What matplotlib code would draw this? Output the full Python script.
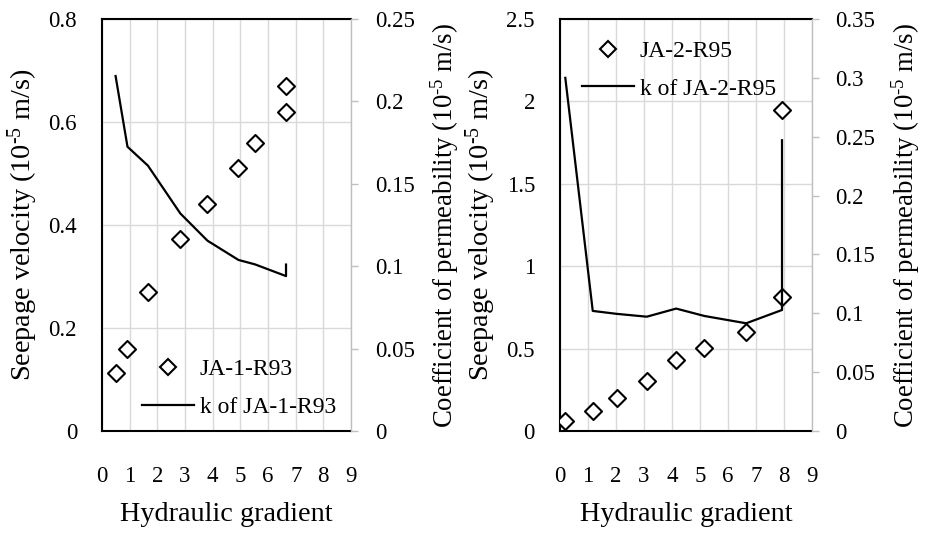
import matplotlib
matplotlib.use("Agg")
import matplotlib.pyplot as plt
from matplotlib.ticker import FuncFormatter
from matplotlib.lines import Line2D

plt.rcParams["font.family"] = ["Liberation Serif", "DejaVu Serif"]
plt.rcParams["mathtext.fontset"] = "custom"
plt.rcParams["mathtext.rm"] = "Liberation Serif"
plt.rcParams["mathtext.it"] = "Liberation Serif:italic"

# ---- data ----
# JA-1-R93
grad_1 = [0.49, 0.92, 1.66, 2.83, 3.81, 4.93, 5.53, 6.65, 6.65]
vel_1 = [0.113, 0.159, 0.269, 0.373, 0.440, 0.510, 0.560, 0.620, 0.670]
k_1 = [0.2154, 0.1725, 0.161, 0.132, 0.1155, 0.1038, 0.1011, 0.094, 0.101]

# JA-2-R95
grad_2 = [0.19, 1.17, 2.03, 3.10, 4.15, 5.16, 6.65, 7.93, 7.93]
vel_2 = [0.063, 0.121, 0.202, 0.305, 0.431, 0.502, 0.599, 0.815, 1.948]
k_2 = [0.300, 0.102, 0.0995, 0.0971, 0.104, 0.0977, 0.0915, 0.1028, 0.247]

x_ticks = list(range(0, 10))
v_ticks_1 = [0, 0.2, 0.4, 0.6, 0.8]
k_ticks_1 = [0, 0.05, 0.1, 0.15, 0.2, 0.25]
v_ticks_2 = [0, 0.5, 1, 1.5, 2, 2.5]
k_ticks_2 = [0, 0.05, 0.1, 0.15, 0.2, 0.25, 0.3, 0.35]

TICK_FS = 16.5
LABEL_FS = 20.3
GRID = "#d9d9d9"
RSPINE = "#bfbfbf"
UNIT = r"(10$^{\text{-}5}$ m/s)"

fig = plt.figure(figsize=(9.25, 5.34), dpi=100)


def fmt(v, pos):
    return "%g" % v


def panel(rect, x, v, k, vt, kt, name, leg_anchor):
    ax = fig.add_axes(rect)
    ax2 = ax.twinx()

    ax.scatter(x, v, marker="D", s=75, facecolor="white", edgecolor="black",
               linewidth=1.5, zorder=3)
    ax2.plot(x, k, color="black", lw=1.6)

    ax.set_xlim(0, 9)
    ax.set_xticks(x_ticks)
    ax.set_ylim(vt[0], vt[-1])
    ax.set_yticks(vt)
    ax2.set_ylim(kt[0], kt[-1])
    ax2.set_yticks(kt)
    ax.yaxis.set_major_formatter(FuncFormatter(fmt))
    ax2.yaxis.set_major_formatter(FuncFormatter(fmt))

    ax.grid(True, color=GRID, lw=1.0)
    ax.set_axisbelow(True)

    for s in ("left", "top", "bottom"):
        ax.spines[s].set_color("black")
        ax.spines[s].set_linewidth(1.5)
        ax2.spines[s].set_visible(False)
    ax.spines["right"].set_visible(False)
    ax2.spines["right"].set_color(RSPINE)
    ax2.spines["right"].set_linewidth(1.0)

    ax.tick_params(axis="both", length=0, labelsize=TICK_FS)
    ax.tick_params(axis="x", pad=25)
    ax.tick_params(axis="y", pad=18)
    ax2.tick_params(axis="y", length=5, width=1, color=RSPINE,
                    labelsize=TICK_FS, pad=12)

    ax.set_xlabel("Hydraulic gradient", fontsize=LABEL_FS, labelpad=11)
    ax.set_ylabel("Seepage velocity " + UNIT, fontsize=LABEL_FS, labelpad=6)
    ax2.set_ylabel("Coefficient of permeability " + UNIT,
                   fontsize=19.3, rotation=90, labelpad=10)

    handles = [
        Line2D([], [], marker="D", ls="none", markersize=8.5,
               markerfacecolor="white", markeredgecolor="black", markeredgewidth=1.5),
        Line2D([], [], color="black", lw=1.6),
    ]
    ax2.legend(handles, [name, "k of " + name], loc="upper left",
               bbox_to_anchor=leg_anchor, frameon=False, fontsize=17,
               handlelength=2.2, handletextpad=0.25, borderpad=0,
               borderaxespad=0, labelspacing=0.68)
    return ax, ax2


panel([0.1103, 0.1929, 0.2692, 0.7715], grad_1, vel_1, k_1,
      v_ticks_1, k_ticks_1, "JA-1-R93", (0.16, 0.175))
panel([0.6054, 0.1929, 0.2724, 0.7715], grad_2, vel_2, k_2,
      v_ticks_2, k_ticks_2, "JA-2-R95", (0.087, 0.948))

fig.savefig("out.png", dpi=100)
